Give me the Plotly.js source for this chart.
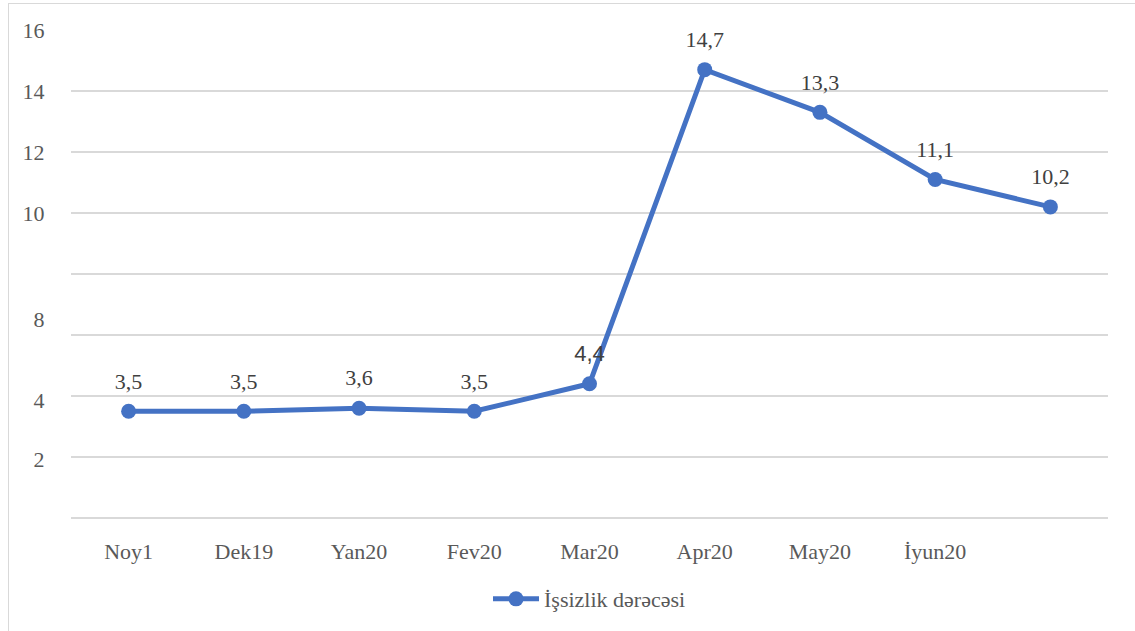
<!DOCTYPE html>
<html><head><meta charset="utf-8">
<script src="https://cdn.plot.ly/plotly-3.0.1.min.js"></script>
<style>
html,body{margin:0;padding:0;background:#fff;overflow:hidden;}
#frame{position:absolute;left:8px;top:3px;width:1200px;height:700px;border-left:1px solid #d9d9d9;border-top:1px solid #d9d9d9;}
#chart{position:absolute;left:0;top:0;width:1135px;height:631px;}
</style></head>
<body>
<div id="frame"></div>
<div id="chart"></div>
<script>
var categories = ['Noy1','Dek19','Yan20','Fev20','Mar20','Apr20','May20','İyun20',' '];
var values = [3.5,3.5,3.6,3.5,4.4,14.7,13.3,11.1,10.2];
var valueLabels = ['3,5','3,5','3,6','3,5','4,4','14,7','13,3','11,1','10,2'];
var labelFonts = ['Liberation Serif','Liberation Serif','Liberation Serif','Liberation Serif','Liberation Sans','Liberation Serif','Liberation Serif','Liberation Serif','Liberation Serif'];
var seriesName = 'İşsizlik dərəcəsi';
var gridVals = [0,2,4,6,8,10,12,14,16];
var yTickVals = [16,14,12,10,6.5,3.87,1.93];
var yTickText = ['16','14','12','10','8','4','2'];

var trace = {
  x: categories, y: values, type:'scatter', mode:'lines+markers',
  name: seriesName,
  line:{color:'#4472C4', width:5},
  marker:{color:'#4472C4', size:15},
  cliponaxis:false, hoverinfo:'none'
};
var labels = {
  x: categories, y: values, type:'scatter', mode:'markers+text',
  text: valueLabels, textposition:'top center',
  textfont:{family: labelFonts, size:22, color:'#404040'},
  marker:{size:26, opacity:0}, showlegend:false, cliponaxis:false, hoverinfo:'none'
};
var helper = {x:[categories[0]], y:[0], yaxis:'y2', type:'scatter', mode:'markers',
  marker:{opacity:0}, showlegend:false, hoverinfo:'none'};

var layout = {
  width:1135, height:631,
  paper_bgcolor:'rgba(0,0,0,0)', plot_bgcolor:'rgba(0,0,0,0)',
  margin:{l:71, r:27, t:30, b:113, autoexpand:false},
  font:{family:'Liberation Serif', color:'#595959', size:22},
  xaxis:{type:'category', range:[-0.5,8.5], showgrid:false, zeroline:false, showline:false,
    ticks:'outside', ticklen:14, tickcolor:'rgba(0,0,0,0)',
    tickfont:{family:'Liberation Serif', size:22, color:'#595959'}},
  yaxis:{range:[0,16], tickvals:gridVals, showticklabels:false, showgrid:true,
    gridcolor:'#d9d9d9', gridwidth:1.5, zeroline:true, zerolinecolor:'#d9d9d9', zerolinewidth:1.5,
    showline:false, ticks:''},
  yaxis2:{range:[0,16], overlaying:'y', side:'left', showgrid:false, zeroline:false,
    tickvals:yTickVals, ticktext:yTickText, ticks:'outside', ticklen:21,
    tickcolor:'rgba(0,0,0,0)', tickfont:{family:'Liberation Serif', size:22, color:'#595959'}},
  showlegend:true,
  legend:{orientation:'h', x:0.5, xanchor:'center', y:-0.123, yanchor:'top',
    font:{family:'Liberation Serif', size:22, color:'#595959'}, itemwidth:46}
};
Plotly.newPlot('chart', [trace, labels, helper], layout, {displayModeBar:false, staticPlot:true});
</script>
</body></html>
